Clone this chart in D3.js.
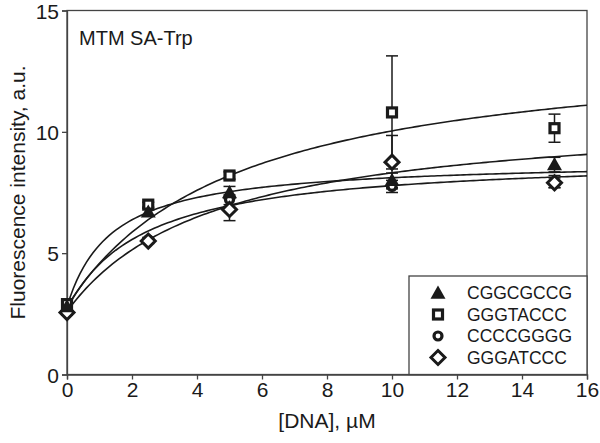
<!DOCTYPE html>
<html>
<head>
<meta charset="utf-8">
<script src="https://cdn.jsdelivr.net/npm/d3@7"></script>
<style>
  body { margin: 0; background: #fff; }
  text { font-family: "Liberation Sans", Arial, sans-serif; fill: #1a1a1a; }
</style>
</head>
<body>
<svg id="chart" width="600" height="443"></svg>
<script>
// concentrations of DNA, uM
let concentrations = [0, 2.5, 5, 10, 15];

// series names (legend order)
let seriesNames = ['CGGCGCCG', 'GGGTACCC', 'CCCCGGGG', 'GGGATCCC'];
let seriesSymbols = ['triangle', 'square', 'circle', 'diamond'];

// measured fluorescence per series
let triangleValues = [2.8, 6.7, 7.5, 8.0, 8.65];
let squareValues = [2.9, 7.0, 8.2, 10.8, 10.15];
let circleValues = [2.8, 5.55, 7.2, 7.75, 7.95];
let diamondValues = [2.55, 5.5, 6.8, 8.75, 7.9];

// error bar half-widths
let triangleErrors = [0.1, 0.15, 0.25, 0.3, 0.3];
let squareErrors = [0.1, 0.1, 0.15, 2.33, 0.58];
let circleErrors = [0.1, 0.1, 0.2, 0.25, 0.25];
let diamondErrors = [0.1, 0.1, 0.46, 1.1, 0.2];

// hyperbolic fit parameters F = F0 + A*x/(K+x)
let fitF0 = [2.8, 2.8, 2.7, 2.6];
let fitA = [6.04, 10.98, 6.31, 8.31];
let fitK = [1.38, 5.17, 2.41, 4.55];

let xTicks = [0, 2, 4, 6, 8, 10, 12, 14, 16];
let yTicks = [0, 5, 10, 15];

function drawChart(){
    let svg = d3.select('#chart');

    // plot area edges
    let margL = 67;
    let margR = 13;
    let margT = 10.5;
    let margB = 68.5;
    let width = 600;
    let height = 443;

    let xScale = d3.scaleLinear()
                    .domain([0, 16])
                    .range([margL, width - margR]);
    let yScale = d3.scaleLinear()
                    .domain([0, 15])
                    .range([height - margB, margT]);

    let allValues = [triangleValues, squareValues, circleValues, diamondValues];
    let allErrors = [triangleErrors, squareErrors, circleErrors, diamondErrors];

    let ink = '#1a1a1a';

    // frame
    svg.append('rect')
        .attr('x', margL)
        .attr('y', margT)
        .attr('width', width - margR - margL)
        .attr('height', height - margB - margT)
        .attr('fill', 'none')
        .attr('stroke', '#444')
        .attr('stroke-width', 1.3);

    // axes
    let xAxis = svg.append('g')
        .attr('transform', 'translate(0,' + (height - margB) + ')')
        .call(d3.axisBottom(xScale).tickValues(xTicks).tickSize(5).tickPadding(3));
    let yAxis = svg.append('g')
        .attr('transform', 'translate(' + margL + ',0)')
        .call(d3.axisLeft(yScale).tickValues(yTicks).tickSize(5).tickPadding(3));
    [xAxis, yAxis].forEach(function(ax){
        ax.select('.domain').attr('stroke', '#444').attr('stroke-width', 1.3);
        ax.selectAll('.tick line').attr('stroke', '#444').attr('stroke-width', 1.3);
        ax.selectAll('.tick text')
            .attr('font-size', 21)
            .attr('font-family', '"Liberation Sans", Arial, sans-serif')
            .attr('fill', ink);
    });
    yAxis.selectAll('.tick text').attr('dy', '0.36em');

    // axis titles
    svg.append('text')
        .attr('x', (margL + width - margR) / 2)
        .attr('y', 428)
        .attr('text-anchor', 'middle')
        .attr('font-size', 21)
        .text('[DNA], \u00B5M');
    svg.append('text')
        .attr('transform', 'translate(25,' + ((margT + height - margB) / 2) + ') rotate(-90)')
        .attr('text-anchor', 'middle')
        .attr('font-size', 21)
        .text('Fluorescence intensity, a.u.');

    // panel label
    svg.append('text')
        .attr('x', 79)
        .attr('y', 45)
        .attr('font-size', 20)
        .text('MTM SA-Trp');

    // fit curves
    let fitX = d3.range(0, 16.001, 0.1);
    let line = d3.line()
        .x(function(d){ return xScale(d[0]); })
        .y(function(d){ return yScale(d[1]); });
    let curveGrp = svg.append('g').attr('class', 'curveGrp');
    fitF0.forEach(function(f0, i){
        let pts = fitX.map(function(x){
            return [x, f0 + fitA[i] * x / (fitK[i] + x)];
        });
        curveGrp.append('path')
            .attr('d', line(pts))
            .attr('fill', 'none')
            .attr('stroke', ink)
            .attr('stroke-width', 1.6);
    });

    // error bars
    let errGrp = svg.append('g').attr('class', 'errGrp');
    allValues.forEach(function(vals, s){
        vals.forEach(function(v, i){
            let e = allErrors[s][i];
            let cx = xScale(concentrations[i]);
            let y1 = yScale(v + e);
            let y2 = yScale(v - e);
            errGrp.append('line')
                .attr('x1', cx).attr('x2', cx)
                .attr('y1', y1).attr('y2', y2)
                .attr('stroke', ink).attr('stroke-width', 1.5);
            [y1, y2].forEach(function(yy){
                errGrp.append('line')
                    .attr('x1', cx - 6).attr('x2', cx + 6)
                    .attr('y1', yy).attr('y2', yy)
                    .attr('stroke', ink).attr('stroke-width', 1.5);
            });
        });
    });

    // markers
    let ptGrp = svg.append('g').attr('class', 'ptGrp');
    // draw circles and diamonds first, squares and triangles on top
    [2, 3, 1, 0].forEach(function(s){
        allValues[s].forEach(function(v, i){
            drawSymbol(ptGrp, seriesSymbols[s], xScale(concentrations[i]), yScale(v));
        });
    });

    // legend
    let legX = 409;
    let legY = 276;
    svg.append('rect')
        .attr('x', legX)
        .attr('y', legY)
        .attr('width', width - margR - legX)
        .attr('height', height - margB - legY)
        .attr('fill', '#fff')
        .attr('stroke', '#444')
        .attr('stroke-width', 1.3);
    let legendGrp = svg.append('g').attr('class', 'legendGrp');
    seriesNames.forEach(function(name, i){
        let yy = legY + 17 + i * 21.5;
        drawSymbol(legendGrp, seriesSymbols[i], 438, yy);
        legendGrp.append('text')
            .attr('x', 467)
            .attr('y', yy)
            .attr('dy', '0.36em')
            .attr('font-size', 17.5)
            .text(name);
    });
}

function drawSymbol(grp, kind, cx, cy){
    let ink = '#1a1a1a';
    if (kind === 'triangle'){
        let r = 7.5;
        grp.append('path')
            .attr('d', 'M' + cx + ',' + (cy - r) + 'L' + (cx + r) + ',' + (cy + r * 0.75) + 'L' + (cx - r) + ',' + (cy + r * 0.75) + 'Z')
            .attr('fill', ink);
    } else if (kind === 'square'){
        grp.append('rect')
            .attr('x', cx - 4.5).attr('y', cy - 4.5)
            .attr('width', 9).attr('height', 9)
            .attr('fill', '#fff')
            .attr('stroke', ink).attr('stroke-width', 3.2);
    } else if (kind === 'circle'){
        grp.append('circle')
            .attr('cx', cx).attr('cy', cy).attr('r', 4)
            .attr('fill', '#fff')
            .attr('stroke', ink).attr('stroke-width', 3.2);
    } else {
        let r = 7;
        grp.append('path')
            .attr('d', 'M' + cx + ',' + (cy - r) + 'L' + (cx + r) + ',' + cy + 'L' + cx + ',' + (cy + r) + 'L' + (cx - r) + ',' + cy + 'Z')
            .attr('fill', '#fff')
            .attr('stroke', ink).attr('stroke-width', 3);
    }
}

drawChart();
</script>
</body>
</html>
